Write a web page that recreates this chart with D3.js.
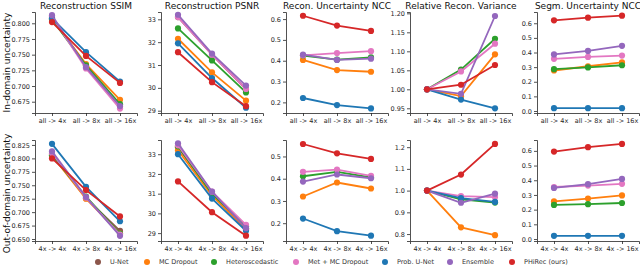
<!DOCTYPE html>
<html>
<head>
<meta charset="utf-8">
<script src="https://cdn.jsdelivr.net/npm/d3@7"></script>
<style>
body { margin: 0; background: #fff; }
text { font-family: "DejaVu Sans", sans-serif; }
</style>
</head>
<body>
<div id="chart"></div>
<script>
// svg size
const width = 640;
const height = 267;

// categories and methods
const catsIn = ["all -> 4x", "all -> 8x", "all -> 16x"];
const catsOut = ["4x -> 4x", "4x -> 8x", "4x -> 16x"];
const methods = ["U-Net", "MC Dropout", "Heteroscedastic", "Met + MC Dropout", "Prob. U-Net", "Ensemble", "PHiRec (ours)"];
const colors = ["#8c564b", "#ff7f0e", "#2ca02c", "#e377c2", "#1f77b4", "#9467bd", "#d62728"];

// values, one row per method (same order as methods), null = not shown
const ssimIn = [
    [0.809, 0.732, 0.668],
    [0.807, 0.735, 0.678],
    [0.806, 0.733, 0.671],
    [0.811, 0.728, 0.664],
    [0.808, 0.754, 0.707],
    [0.813, 0.730, 0.668],
    [0.802, 0.748, 0.705]
];
const psnrIn = [
    [33.1, 31.45, 29.95],
    [32.15, 30.68, 29.44],
    [32.6, 31.2, 29.8],
    [33.1, 31.45, 29.95],
    [31.95, 30.43, 29.13],
    [33.2, 31.5, 30.1],
    [31.56, 30.25, 29.2]
];
const reconNccIn = [
    null,
    [0.404, 0.355, 0.347],
    [0.425, 0.405, 0.416],
    [0.426, 0.437, 0.446],
    [0.221, 0.187, 0.171],
    [0.429, 0.404, 0.41],
    [0.616, 0.569, 0.543]
];
const relVarIn = [
    null,
    [1.0, 0.982, 1.092],
    [1.0, 1.052, 1.133],
    [1.0, 1.047, 1.12],
    [1.0, 0.973, 0.95],
    [1.0, 0.988, 1.193],
    [1.0, 1.012, 1.064]
];
const segNccIn = [
    null,
    [0.277, 0.306, 0.332],
    [0.286, 0.298, 0.313],
    [0.357, 0.37, 0.379],
    [0.019, 0.019, 0.019],
    [0.387, 0.411, 0.446],
    [0.62, 0.638, 0.652]
];
const ssimOut = [
    [0.808, 0.726, 0.665],
    [0.805, 0.725, 0.660],
    [0.806, 0.729, 0.660],
    [0.810, 0.727, 0.658],
    [0.827, 0.747, 0.683],
    [0.813, 0.728, 0.656],
    [0.800, 0.741, 0.692]
];
const psnrOut = [
    [33.35, 31.0, 29.25],
    [33.2, 30.9, 29.2],
    [33.4, 31.0, 29.35],
    [33.45, 31.1, 29.42],
    [33.0, 30.75, 29.12],
    [33.55, 31.1, 29.25],
    [31.62, 30.06, 28.87]
];
const reconNccOut = [
    null,
    [0.32, 0.383, 0.356],
    [0.411, 0.431, 0.406],
    [0.431, 0.441, 0.413],
    [0.221, 0.164, 0.144],
    [0.387, 0.419, 0.402],
    [0.556, 0.514, 0.489]
];
const relVarOut = [
    null,
    [1.0, 0.831, 0.795],
    [1.0, 0.96, 0.945],
    [1.0, 0.975, 0.97],
    [1.0, 0.965, 0.948],
    [1.0, 0.944, 0.986],
    [1.0, 1.074, 1.215]
];
const segNccOut = [
    null,
    [0.256, 0.275, 0.297],
    [0.232, 0.237, 0.245],
    [0.354, 0.364, 0.376],
    [0.022, 0.022, 0.022],
    [0.348, 0.373, 0.409],
    [0.595, 0.625, 0.647]
];

const titles = ["Reconstruction SSIM", "Reconstruction PSNR", "Recon. Uncertainty NCC", "Relative Recon. Variance", "Segm. Uncertainty NCC"];
const rowLabels = ["In-domain uncertainty", "Out-of-domain uncertainty"];

// panel definitions (axis limits + ticks)
const panels = [
    {row: 0, col: 0, data: ssimIn, domain: [0.657, 0.818], ticks: [0.675, 0.7, 0.725, 0.75, 0.775, 0.8], fmt: ".3f"},
    {row: 0, col: 1, data: psnrIn, domain: [28.9, 33.32], ticks: [29, 30, 31, 32, 33], fmt: "d"},
    {row: 0, col: 2, data: reconNccIn, domain: [0.149, 0.634], ticks: [0.2, 0.3, 0.4, 0.5, 0.6], fmt: ".1f"},
    {row: 0, col: 3, data: relVarIn, domain: [0.9376, 1.2035], ticks: [0.95, 1.0, 1.05, 1.1, 1.15, 1.2], fmt: ".2f"},
    {row: 0, col: 4, data: segNccIn, domain: [-0.0137, 0.677], ticks: [0, 0.1, 0.2, 0.3, 0.4, 0.5, 0.6], fmt: ".1f"},
    {row: 1, col: 0, data: ssimOut, domain: [0.6463, 0.8342], ticks: [0.65, 0.675, 0.7, 0.725, 0.75, 0.775, 0.8, 0.825], fmt: ".3f"},
    {row: 1, col: 1, data: psnrOut, domain: [28.6, 33.72], ticks: [29, 30, 31, 32, 33], fmt: "d"},
    {row: 1, col: 2, data: reconNccOut, domain: [0.12, 0.574], ticks: [0.2, 0.3, 0.4, 0.5], fmt: ".1f"},
    {row: 1, col: 3, data: relVarOut, domain: [0.768, 1.233], ticks: [0.8, 0.9, 1.0, 1.1, 1.2], fmt: ".1f"},
    {row: 1, col: 4, data: segNccOut, domain: [-0.0135, 0.674], ticks: [0, 0.1, 0.2, 0.3, 0.4, 0.5, 0.6], fmt: ".1f"}
];

// layout
const colLeft = [35, 161, 286, 410, 537];
const panelWidth = 102;
const rowTop = [12, 140];
const panelHeight = 101;
const axisColor = "#262626";

const svg = d3.select("#chart").append("svg")
    .attr("width", width)
    .attr("height", height);

function drawPanel(p) {
    const g = svg.append("g")
        .attr("transform", `translate(${colLeft[p.col]}, ${rowTop[p.row]})`);

    const cats = p.row === 0 ? catsIn : catsOut;
    const x = d3.scalePoint()
        .domain(cats)
        .range([0, panelWidth])
        .padding(0.5);
    const y = d3.scaleLinear()
        .domain(p.domain)
        .range([panelHeight, 0]);

    const xAxis = g.append("g")
        .attr("transform", `translate(0, ${panelHeight})`)
        .call(d3.axisBottom(x).tickSize(3).tickPadding(2));
    const yAxis = g.append("g")
        .call(d3.axisLeft(y).tickValues(p.ticks).tickFormat(d3.format(p.fmt)).tickSize(3).tickPadding(2));

    [xAxis, yAxis].forEach(a => {
        a.select(".domain").attr("stroke", axisColor).attr("stroke-width", 0.8);
        a.selectAll(".tick line").attr("stroke", axisColor).attr("stroke-width", 0.8);
        a.selectAll(".tick text")
            .attr("fill", "#262626")
            .style("font-size", "6.5px")
            .style("font-family", "DejaVu Sans, sans-serif");
    });

    const line = d3.line()
        .x((d, i) => x(cats[i]))
        .y(d => y(d));

    p.data.forEach((vals, m) => {
        if (!vals) return;
        g.append("path")
            .datum(vals)
            .attr("d", line)
            .attr("fill", "none")
            .attr("stroke", colors[m])
            .attr("stroke-width", 1.8);
        g.selectAll(null)
            .data(vals)
            .enter()
            .append("circle")
            .attr("cx", (d, i) => x(cats[i]))
            .attr("cy", d => y(d))
            .attr("r", 3.1)
            .attr("fill", colors[m]);
    });

    if (p.row === 0) {
        g.append("text")
            .attr("x", panelWidth / 2)
            .attr("y", -3)
            .attr("text-anchor", "middle")
            .style("font-size", "9px")
            .attr("fill", "#111")
            .text(titles[p.col]);
    }
}

panels.forEach(drawPanel);

// row labels
rowLabels.forEach((label, r) => {
    svg.append("text")
        .attr("transform", `translate(6.5, ${rowTop[r] + panelHeight / 2 + (r === 1 ? 3 : 0)}) rotate(-90)`)
        .attr("text-anchor", "middle")
        .attr("dominant-baseline", "central")
        .style("font-size", "9px")
        .attr("fill", "#111")
        .text(label);
});

// legend
const legendX = [98, 147, 214, 296, 385, 450, 512];
const legend = svg.append("g").attr("transform", "translate(0, 262)");
methods.forEach((m, i) => {
    legend.append("circle")
        .attr("cx", legendX[i])
        .attr("cy", 0)
        .attr("r", 3)
        .attr("fill", colors[i]);
    legend.append("text")
        .attr("x", legendX[i] + 12)
        .attr("y", 0)
        .attr("dominant-baseline", "central")
        .style("font-size", "6.5px")
        .attr("fill", "#333")
        .text(m);
});
</script>
</body>
</html>
